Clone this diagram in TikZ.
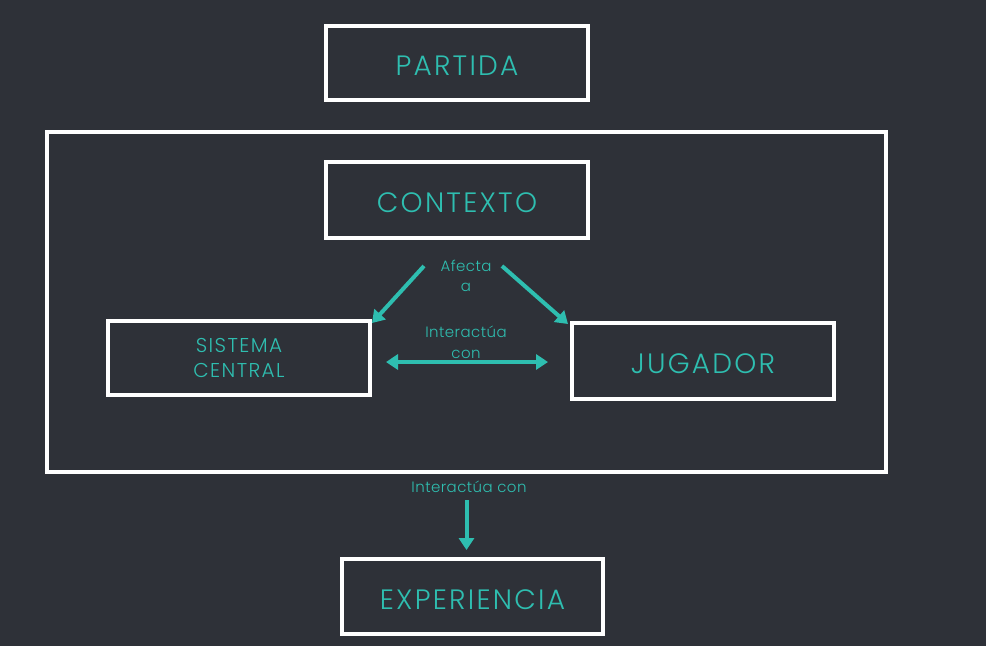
\documentclass[tikz,border=0pt]{standalone}
\usepackage{fontspec}
\setmainfont{Poppins}[UprightFont={* Light}]
\usepackage{tikz}
\usetikzlibrary{arrows.meta, positioning, calc}
\definecolor{fondo}{RGB}{46,49,56}
\definecolor{turquesa}{RGB}{46,190,176}

\begin{document}
\begin{tikzpicture}[x=1pt, y=-1pt,
    caja/.style={draw=white, line width=4pt, text=turquesa, align=center},
    grande/.style={font=\fontsize{28}{32}\selectfont\addfontfeature{LetterSpace=8}, text height=25pt, text depth=0pt},
    etiqueta/.style={text=turquesa, font=\fontsize{15}{18}\selectfont\addfontfeature{LetterSpace=3}, align=center, inner sep=1pt},
    flecha/.style={draw=turquesa, line width=4pt, -{Triangle[width=15pt,length=12pt]}}]
    \fill[fondo] (0,0) rectangle (986,646);
    \useasboundingbox (0,0) rectangle (986,646);

    \node[caja, grande, minimum width=262pt, minimum height=74pt] (partida) at (457,63) {PARTIDA};
    \node[caja, minimum width=839pt, minimum height=340pt] (marco) at (466.5,302) {};
    \node[caja, grande, minimum width=262pt, minimum height=76pt] (contexto) at (457,200) {CONTEXTO};
    \node[caja, minimum width=262pt, minimum height=74pt, font=\fontsize{20}{25}\selectfont\addfontfeature{LetterSpace=7}] (sistema) at (239,358) {SISTEMA\\CENTRAL};
    \node[caja, grande, minimum width=262pt, minimum height=76pt] (jugador) at (703,361) {JUGADOR};
    \node[caja, grande, minimum width=261pt, minimum height=75pt] (experiencia) at (472.5,596.5) {EXPERIENCIA};

    % Relaciones
    \node[etiqueta] (afecta) at (466,276) {Afecta\\[2pt]a};
    \node[etiqueta] (interactua) at (466,342) {Interactúa\\[3pt]con};
    \node[etiqueta] (salida) at (469,487) {Interactúa con};

    \coordinate (izq) at (424,266);
    \coordinate (der) at (502,266);
    \draw[flecha] (izq) -- ([xshift=0pt,yshift=-4pt]sistema.north east);
    \draw[flecha] (der) -- ([xshift=-2pt,yshift=-3pt]jugador.north west);
    \draw[flecha, {Triangle[width=15pt,length=12pt]}-{Triangle[width=15pt,length=12pt]}]
        ([xshift=14pt,yshift=-4pt]sistema.east) -- ([xshift=-22pt,yshift=-1pt]jugador.west);
    \draw[flecha, shorten <=26pt, shorten >=7pt] (marco.south) -- (marco.south |- experiencia.north);
\end{tikzpicture}
\end{document}
